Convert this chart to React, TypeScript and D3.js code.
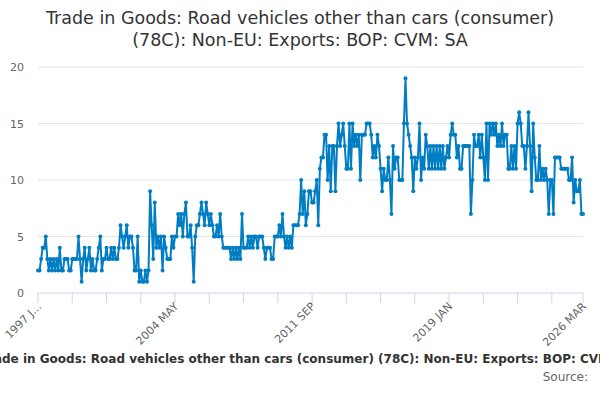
import * as d3 from 'd3';

// Monthly values, 1997 JAN .. 2026 MAR
const values1997to2000 = [
  2, 2, 3, 4, 4, 5, 3, 2, 3, 2, 3, 2, 3, 2, 4, 2, 2, 3, 3, 3, 2, 2, 3, 3, 3, 3, 5, 3, 1, 3,
  4, 2, 3, 4, 2, 3, 2, 2, 3, 4, 5, 2, 3,
];
const values2000to2004 = [
  3, 4, 3, 3, 4, 3, 4, 3, 3, 4, 6, 5, 4, 5, 6, 4, 5, 5, 4, 2, 2, 5, 1, 2, 1, 1, 2, 1, 2, 9,
  6, 3, 8, 4, 5, 4, 5, 2, 5, 4, 3, 3, 3, 5, 4, 5, 5, 7, 6, 7, 5, 7,
];
const values2004to2008 = [
  8, 5, 5, 6, 4, 1, 5, 6, 6, 7, 8, 7, 6, 8, 7, 6, 7, 6, 5, 5, 6, 5, 7, 5, 4, 4, 4, 4, 4, 3,
  4, 3, 4, 3, 4, 3, 7, 4, 4, 4, 5, 4, 5, 4, 5, 5, 4, 5,
];
const values2008to2012 = [
  5, 5, 4, 3, 4, 4, 4, 3, 3, 5, 5, 5, 6, 5, 7, 5, 4, 5, 4, 5, 4, 6, 6, 6, 6, 7, 10, 7, 9, 6,
  7, 9, 9, 8, 8, 9, 10, 6, 11, 12, 12, 14, 14, 10, 13, 9, 13,
];
const values2012to2016 = [
  13, 9, 13, 15, 13, 14, 15, 13, 11, 11, 15, 11, 15, 13, 14, 13, 14, 10, 14, 14, 14, 15, 15,
  15, 14, 12, 13, 12, 14, 13, 11, 9, 11, 10, 10, 12, 10, 7, 13, 11, 12, 12, 10, 10, 10, 15,
  19, 15,
];
const values2016to2021 = [
  14, 13, 12, 9, 12, 11, 12, 15, 10, 12, 11, 14, 13, 11, 13, 11, 13, 11, 13, 11, 13, 11, 13,
  11, 12, 13, 12, 14, 15, 14, 14, 12, 13, 11, 11, 13, 13, 13, 13, 13, 7, 10, 14, 13, 13, 14,
  12, 14, 12, 10, 15, 10, 15, 14,
];
const values2021to2026 = [
  15, 14, 15, 13, 14, 13, 15, 13, 14, 14, 11, 11, 13, 11, 13, 11, 15, 16, 15, 13, 13, 11, 13,
  16, 13, 9, 15, 12, 10, 10, 13, 10, 11, 10, 11, 10, 7, 10, 10, 7, 12, 12, 12, 12, 11, 11, 11,
  11, 11, 10, 10, 12, 8, 10, 9, 9, 10, 7, 7,
];

const values = [
  ...values1997to2000,
  ...values2000to2004,
  ...values2004to2008,
  ...values2008to2012,
  ...values2012to2016,
  ...values2016to2021,
  ...values2021to2026,
];

// Axis labels
const xTickLabels = ['1997 J…', '2004 MAY', '2011 SEP', '2019 JAN', '2026 MAR'];
const xTickLabelIndex = [0, 88, 176, 264, 350];
const yTicks = [0, 5, 10, 15, 20];

const titleLines = [
  'Trade in Goods: Road vehicles other than cars (consumer)',
  '(78C): Non-EU: Exports: BOP: CVM: SA',
];
const captionText =
  'Trade in Goods: Road vehicles other than cars (consumer) (78C): Non-EU: Exports: BOP: CVM: SA';

const FONT = '"DejaVu Sans", sans-serif';
const COLOR = '#007dc3';

const App = () => {
  const width = 600;
  const height = 400;
  const plot = { left: 38, right: 583, top: 67, bottom: 293 };

  const x = d3.scaleLinear().domain([0, values.length - 1]).range([plot.left, plot.right]);
  const y = d3.scaleLinear().domain([0, 20]).range([plot.bottom, plot.top]);

  const line = d3
    .line<number>()
    .x((_, i) => x(i))
    .y(d => y(d));

  // minor ticks every 22 months plus the last month
  const tickIdx = d3.range(0, values.length, 22).concat([values.length - 1]);

  return (
    <svg width={width} height={height} style={{ position: 'absolute', left: 0, top: 0, fontFamily: FONT }}>
      <rect width={width} height={height} fill="#fff" />

      {titleLines.map((t, i) => (
        <text key={t} x={300} y={24 + i * 22} textAnchor="middle" fontSize={17.5} fill="#333">
          {t}
        </text>
      ))}

      {yTicks.map(v => (
        <g key={v}>
          {v > 0 && (
            <line x1={plot.left} x2={plot.right} y1={y(v)} y2={y(v)} stroke="#e6e6e6" strokeWidth={1} />
          )}
          <text x={24} y={y(v) + 4} textAnchor="end" fontSize={11} fill="#666">
            {v}
          </text>
        </g>
      ))}

      <line x1={plot.left} x2={plot.right} y1={plot.bottom} y2={plot.bottom} stroke="#ccd6eb" strokeWidth={1} />
      {tickIdx.map(i => (
        <line key={i} x1={x(i)} x2={x(i)} y1={plot.bottom} y2={plot.bottom + 10} stroke="#ccd6eb" strokeWidth={1} />
      ))}
      {xTickLabels.map((lab, k) => {
        const px = x(xTickLabelIndex[k]);
        return (
          <text
            key={lab}
            transform={`translate(${px + 4},${plot.bottom + 14}) rotate(-45)`}
            textAnchor="end"
            fontSize={11}
            fill="#666"
          >
            {lab}
          </text>
        );
      })}

      <path d={line(values) ?? ''} fill="none" stroke={COLOR} strokeWidth={2} strokeLinejoin="round" />
      {values.map((v, i) => (
        <circle key={i} cx={x(i)} cy={y(v)} r={2} fill={COLOR} />
      ))}

      <text x={309} y={363} textAnchor="middle" fontSize={12} fontWeight="bold" fill="#333">
        {captionText}
      </text>
      <text x={588} y={381} textAnchor="end" fontSize={12} fill="#666">
        Source:
      </text>
    </svg>
  );
};

export default App;
